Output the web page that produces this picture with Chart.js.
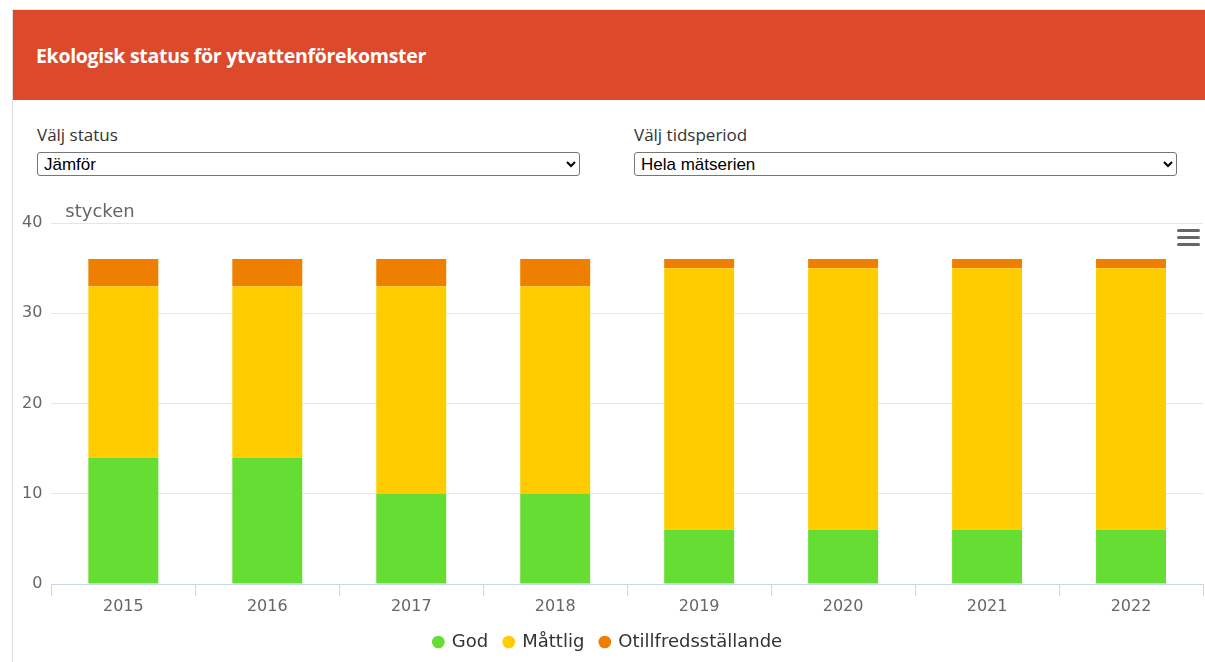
<!DOCTYPE html>
<html lang="sv">
<head>
<meta charset="utf-8">
<title>Ekologisk status för ytvattenförekomster</title>
<script src="https://cdn.jsdelivr.net/npm/chart.js@4"></script>
<style>
  html, body { margin: 0; padding: 0; background: #fff; }
  body { width: 1205px; height: 662px; overflow: hidden; position: relative; font-family: "Open Sans", sans-serif; }
  .card { position: absolute; left: 12px; top: 9px; width: 1200px; height: 660px; border-left: 1px solid #dcdcdc; border-top: 1px solid #e4e4e4; }
  .header { position: absolute; left: 13px; top: 10px; width: 1200px; height: 90px; background: #dd4a2b; }
  .header h1 { margin: 0; position: absolute; left: 23px; top: 32px; color: #fff; font-size: 19.5px; font-weight: 700; letter-spacing: -0.3px; }
  .field { position: absolute; top: 124px; width: 543px; }
  .field label { display: block; color: #333; font-size: 17px; line-height: 22px; }
  .field select { display: block; margin-top: 6px; width: 543px; height: 24px; font-family: "Liberation Sans", Arial, sans-serif; font-size: 17px; color: #000; background: #fff; border: 1px solid #767676; border-radius: 3px; padding: 0 2px; }
  .chart-box { position: absolute; left: 13px; top: 190px; width: 1192px; height: 472px; }
  .menu { position: absolute; left: 1177px; top: 229px; width: 23px; }
  .menu span { display: block; height: 3px; margin-bottom: 4px; background: #666; border-radius: 2px; }
</style>
</head>
<body>
<div class="card"></div>
<div class="header"><h1>Ekologisk status för ytvattenförekomster</h1></div>

<div class="field" style="left:37px">
  <label>Välj status</label>
  <select><option>Jämför</option></select>
</div>
<div class="field" style="left:634px">
  <label>Välj tidsperiod</label>
  <select><option>Hela mätserien</option></select>
</div>

<div class="chart-box"><canvas id="statusChart"></canvas></div>
<div class="menu"><span></span><span></span><span></span></div>

<script>
// antal vattenförekomster per statusklass och år
const years = ['2015', '2016', '2017', '2018', '2019', '2020', '2021', '2022'];
const god = [14, 14, 10, 10, 6, 6, 6, 6];
const mattlig = [19, 19, 23, 23, 29, 29, 29, 29];
const otillfredsstallande = [3, 3, 3, 3, 1, 1, 1, 1];
const yTicks = [0, 10, 20, 30, 40];

const chartFont = '"DejaVu Sans", "Lucida Grande", sans-serif';

// enhetstext ovanför y-axeln
const unitLabel = {
  id: 'unitLabel',
  afterDraw(chart) {
    const ctx = chart.ctx;
    ctx.save();
    ctx.font = '18px ' + chartFont;
    ctx.fillStyle = '#666666';
    ctx.textBaseline = 'middle';
    ctx.fillText('stycken', chart.chartArea.left + 14, chart.chartArea.top - 11);
    ctx.restore();
  }
};

const ctx = document.getElementById('statusChart').getContext('2d');
const statusChart = new Chart(ctx, {
  type: 'bar',
  data: {
    labels: years,
    datasets: [
      { label: 'God', data: god, backgroundColor: '#66dd33' },
      { label: 'Måttlig', data: mattlig, backgroundColor: '#ffcc00' },
      { label: 'Otillfredsställande', data: otillfredsstallande, backgroundColor: '#ee7f00' }
    ]
  },
  options: {
    responsive: false,
    maintainAspectRatio: false,
    animation: false,
    barPercentage: 0.486,
    categoryPercentage: 1,
    layout: { padding: { left: 0, right: 2, top: 33, bottom: 1 } },
    scales: {
      x: {
        stacked: true,
        grid: { offset: true, drawOnChartArea: false, drawTicks: true, tickLength: 12, color: '#ccd6eb' },
        border: { color: '#ccd6eb', width: 1 },
        // tät radhöjd så att förklaringen hamnar nära årtalen
        ticks: { color: '#666666', font: { family: chartFont, size: 16, lineHeight: '9px' }, padding: 6 }
      },
      y: {
        stacked: true,
        min: 0,
        max: 40,
        afterBuildTicks(axis) { axis.ticks = yTicks.map(v => ({ value: v })); },
        grid: { color: '#e6e6e6', drawTicks: false },
        border: { display: false },
        ticks: { color: '#666666', font: { family: chartFont, size: 16 }, padding: 9 }
      }
    },
    plugins: {
      legend: {
        position: 'bottom',
        labels: {
          usePointStyle: true,
          pointStyle: 'circle',
          boxWidth: 9,
          boxHeight: 9,
          padding: 16,
          color: '#333333',
          font: { family: chartFont, size: 18 }
        }
      },
      tooltip: { enabled: false }
    }
  },
  plugins: [unitLabel]
});
statusChart.resize(1192, 472);
</script>
</body>
</html>
